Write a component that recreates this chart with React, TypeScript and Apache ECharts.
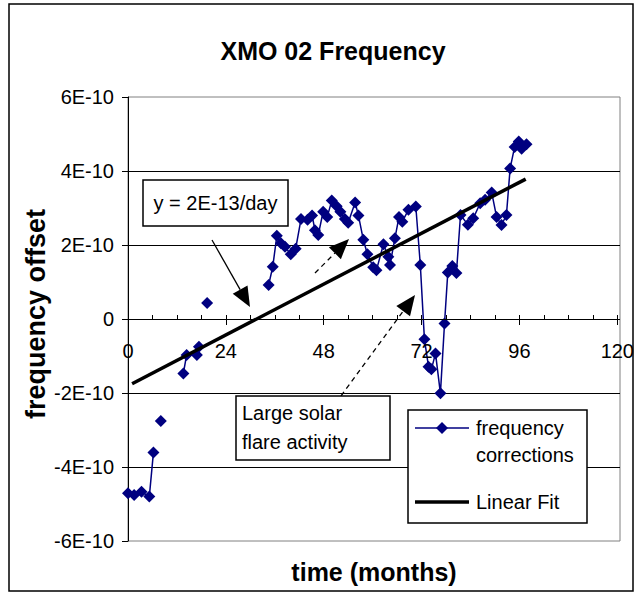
import { useEffect, useRef } from "react";
import * as echarts from "echarts";

// time in months, frequency offset in units of 1E-10 (null = gap in the record)
const months: number[] = [
  0.0, 1.5, 3.3, 5.2, 6.2, 7.1, 8.0, 10.5, 13.5, 14.3, 16.8, 17.3, 18.3, 19.3, 26.0,
  34.3, 35.3, 36.3, 37.3, 38.3, 39.7, 40.9, 42.2, 43.8, 44.9, 45.6, 46.4, 47.6, 48.6,
  49.7, 50.9, 51.8, 52.9, 53.7, 55.4, 56.2, 57.4, 58.4, 59.8, 60.6, 62.3, 63.5, 63.9,
  65.1, 66.1, 66.9, 68.4, 70.2, 71.3, 72.3, 73.3, 74.0, 75.0, 76.2, 77.2, 78.0, 79.1,
  80.1, 81.1, 82.9, 84.2, 85.9, 87.1, 88.7, 89.9, 91.1, 92.3, 93.2, 94.3, 95.3, 96.0, 97.2,
];
const offsetE10: (number | null)[] = [
  -4.71, -4.76, -4.67, -4.8, -3.61, null, -2.76, null, -1.47, -0.97, -0.97, -0.75, null, 0.43, null,
  0.92, 1.41, 2.25, 2.05, 1.95, 1.75, 1.9, 2.7, 2.68, 2.8, 2.4, 2.27, 2.9, 2.76,
  3.2, 3.05, 2.9, 2.7, 2.6, 3.15, 2.8, 2.14, 1.75, 1.4, 1.32, 2.02, 1.68, 1.46,
  2.18, 2.76, 2.63, 2.95, 3.04, 1.46, -0.55, -1.29, -1.36, -0.93, -2.01, -0.12, 1.26, 1.43,
  1.24, 2.81, 2.55, 2.72, 3.13, 3.22, 3.42, 2.76, 2.54, 2.81, 4.07, 4.65, 4.8, 4.6, 4.72,
];
const fitMonths: number[] = [1, 97];
const fitOffsetE10: number[] = [-1.75, 3.78];

const xTickValues: number[] = [0, 24, 48, 72, 96, 120];
const yTickLabels: string[] = ["-6E-10", "-4E-10", "-2E-10", "0", "2E-10", "4E-10", "6E-10"];

const titleText = "XMO 02 Frequency";
const xName = "time (months)";
const yName = "frequency offset";
const seriesNames = ["frequency corrections", "Linear Fit"];
const fitNote = "y = 2E-13/day";
const flareNote = ["Large solar", "flare activity"];

const FONT = '"Liberation Sans", Arial, sans-serif';
const NAVY = "#000080";

function arrow(tail: number[], tip: number[], dashed: boolean) {
  const dx = tip[0] - tail[0];
  const dy = tip[1] - tail[1];
  const len = Math.hypot(dx, dy);
  const ux = dx / len;
  const uy = dy / len;
  const hl = 20;
  const hw = 8.5;
  const bx = tip[0] - ux * hl;
  const by = tip[1] - uy * hl;
  return [
    {
      type: "line",
      shape: { x1: tail[0], y1: tail[1], x2: bx, y2: by },
      style: { stroke: "#000", lineWidth: 1.3, lineDash: dashed ? [5, 4] : null },
      z: 100,
    },
    {
      type: "polygon",
      shape: {
        points: [
          [tip[0], tip[1]],
          [bx - uy * hw, by + ux * hw],
          [bx + uy * hw, by - ux * hw],
        ],
      },
      style: { fill: "#000" },
      z: 100,
    },
  ];
}

function txt(x: number, y: number, text: string, size: number, extra: any = {}) {
  return {
    type: "text",
    z: 101,
    style: {
      x,
      y,
      text,
      fontFamily: FONT,
      fontSize: size,
      fill: "#000",
      textVerticalAlign: "middle",
      ...extra,
    },
  };
}

export default function App() {
  const ref = useRef<HTMLDivElement>(null);
  useEffect(() => {
    const chart = echarts.init(ref.current!, null, { renderer: "svg" });
    const dataPts = months.map((m, i) => [m, offsetE10[i] === null ? "-" : offsetE10[i]]);
    const fitPts = fitMonths.map((m, i) => [m, fitOffsetE10[i]]);
    const xMin = xTickValues[0];
    const xMax = xTickValues[xTickValues.length - 1];
    const option: any = {
      animation: false,
      backgroundColor: "#fff",
      title: {
        text: titleText,
        left: 328,
        top: 33,
        textAlign: "center",
        textStyle: { fontFamily: FONT, fontWeight: "bold", fontSize: 25, color: "#000" },
      },
      grid: [
        {
          left: 128,
          top: 97,
          right: 17,
          bottom: 53,
          show: true,
          borderColor: "#808080",
          borderWidth: 1,
          backgroundColor: "transparent",
        },
        // upper half: its bottom edge is the zero line, where the time axis sits
        {
          left: 128,
          top: 97,
          right: 17,
          bottom: 275,
          show: false,
        },
      ],
      xAxis: [
        {
          gridIndex: 0,
          type: "value",
          min: xMin,
          max: xMax,
          show: false,
        },
        {
          gridIndex: 1,
          type: "value",
          min: xMin,
          max: xMax,
          interval: 24,
          position: "bottom",
          axisLine: { show: true, onZero: false, lineStyle: { color: "#000", width: 1 } },
          axisTick: { show: true, inside: false, length: 6, lineStyle: { color: "#000" } },
          axisLabel: {
            margin: 22,
            fontFamily: FONT,
            fontSize: 20,
            color: "#000",
            formatter: (v: number) => String(v),
          },
          splitLine: { show: false },
          z: 5,
        },
        {
          gridIndex: 1,
          type: "value",
          min: xMin,
          max: xMax,
          interval: 6,
          position: "bottom",
          axisLine: { show: false, onZero: false },
          axisTick: { show: true, inside: true, length: 4, lineStyle: { color: "#000" } },
          axisLabel: { show: false },
          splitLine: { show: false },
          z: 5,
        },
      ],
      yAxis: [
        {
          gridIndex: 0,
          type: "value",
          min: -6,
          max: 6,
          interval: 2,
          axisLine: { show: true, onZero: false, lineStyle: { color: "#000", width: 1 } },
          axisTick: { show: true, inside: false, length: 6, lineStyle: { color: "#000" } },
          axisLabel: {
            margin: 14,
            fontFamily: FONT,
            fontSize: 20,
            color: "#000",
            formatter: (v: number) => yTickLabels[Math.round((v + 6) / 2)],
          },
          splitLine: {
            show: true,
            showMinLine: false,
            showMaxLine: false,
            lineStyle: { color: "#000", width: 1 },
          },
        },
        {
          gridIndex: 1,
          type: "value",
          min: 0,
          max: 6,
          show: false,
        },
      ],
      series: [
        {
          name: seriesNames[0],
          type: "line",
          xAxisIndex: 0,
          yAxisIndex: 0,
          data: dataPts,
          connectNulls: false,
          symbol: "diamond",
          symbolSize: 12,
          showAllSymbol: true,
          lineStyle: { color: NAVY, width: 1.5 },
          itemStyle: { color: NAVY },
          z: 3,
        },
        {
          name: seriesNames[1],
          type: "line",
          xAxisIndex: 0,
          yAxisIndex: 0,
          data: fitPts,
          symbol: "none",
          lineStyle: { color: "#000", width: 3.5 },
          z: 4,
        },
      ],
      graphic: [
        {
          type: "rect",
          shape: { x: 9, y: 4, width: 624, height: 587 },
          style: { fill: "none", stroke: "#000", lineWidth: 1.5 },
          z: 100,
        },
        txt(374, 572, xName, 25, { fontWeight: "bold", textAlign: "center" }),
        {
          ...txt(0, 0, yName, 27, { fontWeight: "bold", textAlign: "center" }),
          x: 36,
          y: 314,
          rotation: Math.PI / 2,
        },
        // linear-fit note
        {
          type: "rect",
          shape: { x: 143, y: 180, width: 145, height: 46 },
          style: { fill: "#fff", stroke: "#000", lineWidth: 1.5 },
          z: 100,
        },
        txt(215.5, 203, fitNote, 20, { textAlign: "center" }),
        ...arrow([212, 240], [250, 307], false),
        ...arrow([315, 273], [349, 239], true),
        ...arrow([341, 396], [415, 295], true),
        // solar-flare note
        {
          type: "rect",
          shape: { x: 236, y: 396, width: 154, height: 64 },
          style: { fill: "#fff", stroke: "#000", lineWidth: 1.5 },
          z: 100,
        },
        txt(242, 413, flareNote[0], 20),
        txt(242, 442, flareNote[1], 20),
        // legend
        {
          type: "rect",
          shape: { x: 408, y: 410, width: 179, height: 113 },
          style: { fill: "#fff", stroke: "#000", lineWidth: 1.5 },
          z: 100,
        },
        {
          type: "line",
          shape: { x1: 415, y1: 428, x2: 469, y2: 428 },
          style: { stroke: NAVY, lineWidth: 1.5 },
          z: 101,
        },
        {
          type: "polygon",
          shape: { points: [[442, 422], [448, 428], [442, 434], [436, 428]] },
          style: { fill: NAVY },
          z: 102,
        },
        txt(476, 428, "frequency", 20),
        txt(476, 455, "corrections", 20),
        {
          type: "line",
          shape: { x1: 415, y1: 502, x2: 469, y2: 502 },
          style: { stroke: "#000", lineWidth: 3.5 },
          z: 101,
        },
        txt(476, 502, seriesNames[1], 20),
      ],
    };
    chart.setOption(option);
    return () => chart.dispose();
  }, []);
  return (
    <div
      ref={ref}
      style={{ position: "fixed", left: 0, top: 0, width: 637, height: 594 }}
    />
  );
}
